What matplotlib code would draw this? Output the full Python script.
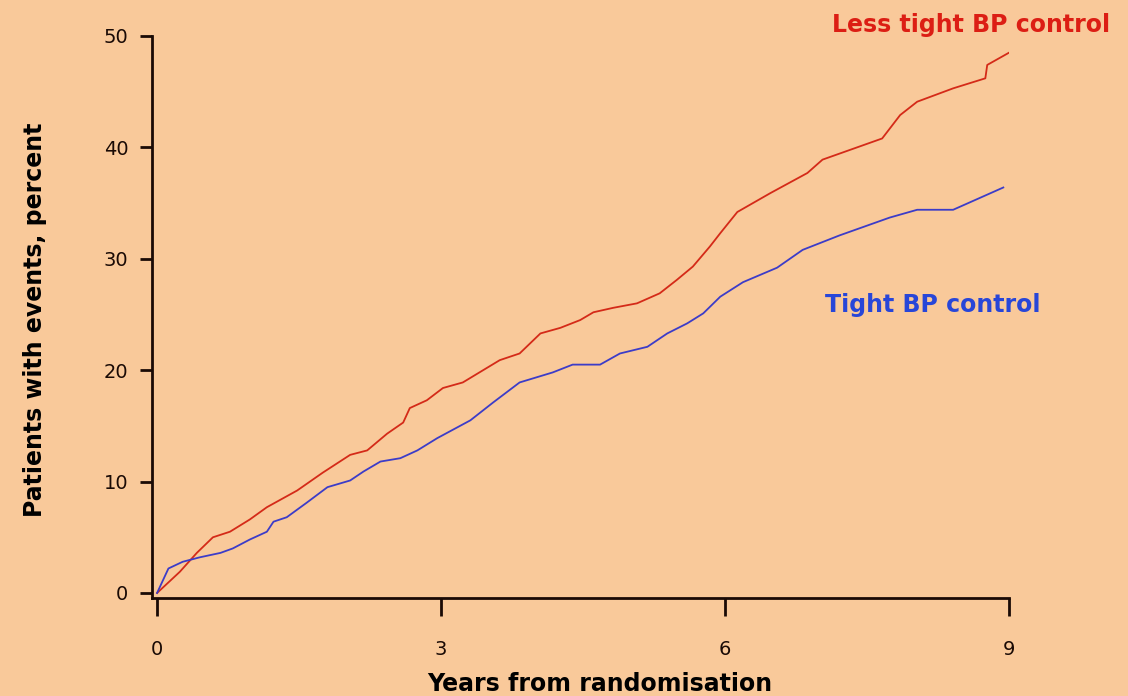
import matplotlib.pyplot as plt

# values
less_tight_years = [0, 0.24, 0.42, 0.59, 0.77, 0.98, 1.16, 1.48, 1.75, 2.04, 2.22, 2.43, 2.60,
                    2.67, 2.85, 3.02, 3.23, 3.62, 3.83, 4.05, 4.26, 4.47, 4.61, 4.82, 5.07,
                    5.31, 5.49, 5.66, 5.84, 5.95, 6.13, 6.48, 6.87, 7.03, 7.66, 7.85, 8.03,
                    8.41, 8.75, 8.77, 9.0]
less_tight_pct = [0, 1.9, 3.6, 5.0, 5.5, 6.6, 7.7, 9.2, 10.8, 12.4, 12.8, 14.3, 15.3,
                  16.6, 17.3, 18.4, 18.9, 20.9, 21.5, 23.3, 23.8, 24.5, 25.2, 25.6, 26.0,
                  26.9, 28.1, 29.3, 31.1, 32.3, 34.2, 35.9, 37.7, 38.9, 40.8, 42.9, 44.1,
                  45.3, 46.2, 47.4, 48.5]

tight_years = [0, 0.12, 0.27, 0.45, 0.67, 0.80, 0.98, 1.16, 1.23, 1.37, 1.58, 1.80, 2.04,
               2.18, 2.36, 2.57, 2.75, 2.96, 3.31, 3.55, 3.83, 4.18, 4.39, 4.68, 4.89,
               5.18, 5.39, 5.60, 5.77, 5.95, 6.19, 6.55, 6.82, 7.21, 7.74, 8.03, 8.41, 8.94]
tight_pct = [0, 2.2, 2.8, 3.2, 3.6, 4.0, 4.8, 5.5, 6.4, 6.8, 8.1, 9.5, 10.1,
             10.9, 11.8, 12.1, 12.8, 13.9, 15.5, 17.1, 18.9, 19.8, 20.5, 20.5, 21.5,
             22.1, 23.3, 24.2, 25.1, 26.6, 27.9, 29.2, 30.8, 32.1, 33.7, 34.4, 34.4, 36.4]

x_ticks = [0, 3, 6, 9]
y_ticks = [0, 10, 20, 30, 40, 50]

bg = "#F9C99A"
ink = "#1a0a05"

fig = plt.figure(figsize=(11.28, 6.96), dpi=100, facecolor=bg)
ax = fig.add_axes([0.1348, 0.1408, 0.7597, 0.8075], facecolor=bg)

ax.plot(less_tight_years, less_tight_pct, color="#D42A18", lw=1.3)
ax.plot(tight_years, tight_pct, color="#3C3CC8", lw=1.3)

ax.set_xlim(-0.053, 9)
ax.set_ylim(-0.45, 50)
ax.set_xticks(x_ticks)
ax.set_yticks(y_ticks)

for s in ["top", "right"]:
    ax.spines[s].set_visible(False)
for s in ["left", "bottom"]:
    ax.spines[s].set_linewidth(2)
    ax.spines[s].set_color(ink)

ax.tick_params(axis="y", direction="out", length=9, width=2, pad=8,
               labelsize=14, colors=ink)
ax.tick_params(axis="x", direction="out", length=13, width=2, pad=17,
               labelsize=14, colors=ink)

ax.set_ylabel("Patients with events, percent", fontsize=17, fontweight="bold")
ax.set_xlabel("Years from randomisation", fontsize=17, fontweight="bold")
ax.yaxis.set_label_coords(-0.1365, 0.495)
ax.yaxis.label.set_va("center")
ax.xaxis.set_label_coords(0.523, -0.153)
ax.xaxis.label.set_va("center")

fig.text(1110 / 1128, 1 - 25 / 696, "Less tight BP control", color="#DC1E14",
         fontsize=17, fontweight="bold", ha="right", va="center")
fig.text(825 / 1128, 1 - 305 / 696, "Tight BP control", color="#2846D8",
         fontsize=17, fontweight="bold", ha="left", va="center")

fig.savefig("out.png", dpi=100, facecolor=bg)
